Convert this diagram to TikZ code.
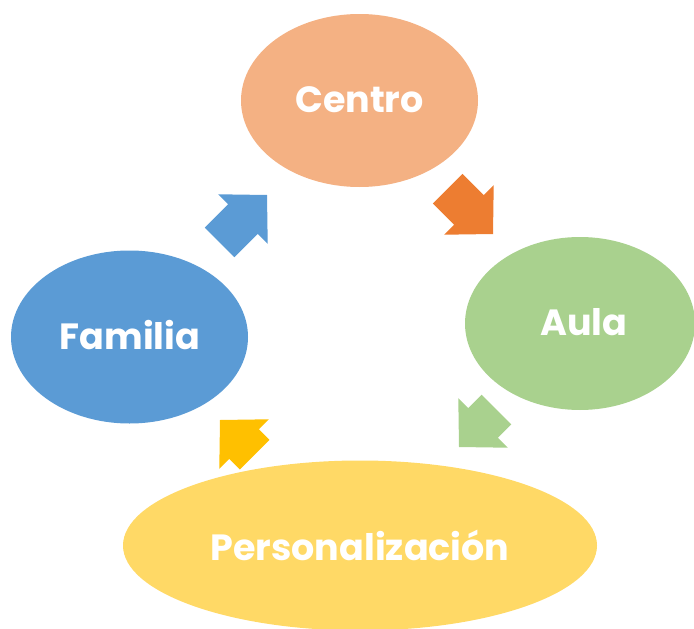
\documentclass[tikz,border=0pt]{standalone}
\usepackage{fontspec}
\setmainfont{Poppins}
\definecolor{cOrangeL}{HTML}{F4B183}
\definecolor{cOrange}{HTML}{ED7D31}
\definecolor{cGreen}{HTML}{A9D18E}
\definecolor{cBlue}{HTML}{5B9BD5}
\definecolor{cYellowL}{HTML}{FFD966}
\definecolor{cGold}{HTML}{FFC000}
\newcommand\blkarrow[4]{%
  \fill[#3, shift={#1}, rotate=#2] (0,0) -- (-34,-35) -- (-34,-21) -- (-#4,-21) -- (-#4,21) -- (-34,21) -- (-34,35) -- cycle;}
\begin{document}
\begin{tikzpicture}[x=1pt,y=-1pt,
  lbl/.style={text=white, font=\bfseries\fontsize{36.5}{42}\selectfont, inner sep=0pt}]
\useasboundingbox (0,0) rectangle (694,629);
\fill[cOrangeL] (359.5,100.5) ellipse [x radius=118.5pt, y radius=86.5pt];
\fill[cGreen] (580,323.5) ellipse [x radius=115pt, y radius=86.5pt];
\fill[cBlue] (129.5,337) ellipse [x radius=118.5pt, y radius=86.5pt];
\fill[cYellowL] (360,545.5) ellipse [x radius=237pt, y radius=85pt];
\node[lbl] (centro) at (359.5,100) {Centro};
\node[lbl] (aula) at (584,322) {Aula};
\node[lbl] (familia) at (130,335) {Familia};
\node[lbl] (perso) at (360,545) {Personalización};
\blkarrow{(267,195)}{45}{cBlue}{67}
\blkarrow{(493,234)}{-45}{cOrange}{64}
\blkarrow{(459,447)}{-135}{cGreen}{53}
\blkarrow{(220,420)}{135}{cGold}{49}
\end{tikzpicture}
\end{document}
